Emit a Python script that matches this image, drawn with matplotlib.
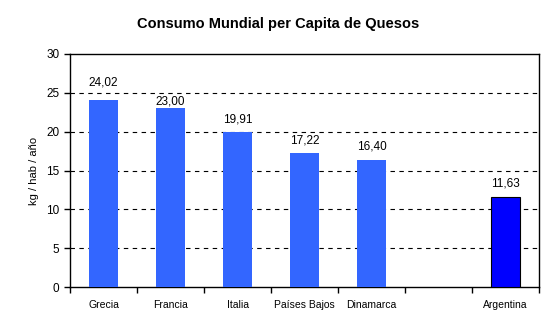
import matplotlib.pyplot as plt
import numpy as np

plt.rcParams['font.family'] = ['Liberation Sans', 'DejaVu Sans']

paises = ['Grecia', 'Francia', 'Italia', 'Países Bajos', 'Dinamarca', '', 'Argentina']
consumo = [24.02, 23.00, 19.91, 17.22, 16.40, np.nan, 11.63]
etiquetas = ['24,02', '23,00', '19,91', '17,22', '16,40', '', '11,63']

fig = plt.figure(figsize=(5.57, 3.29), dpi=100)
ax = fig.add_axes([70/557, 1 - 287/329, 469/557, 233/329])

x = np.arange(len(paises))
colores = ['#3366ff'] * 6 + ['#0000ff']
bordes = ['none'] * 6 + ['black']
for xi, v, c, e in zip(x, consumo, colores, bordes):
    if np.isnan(v):
        continue
    ax.bar(xi, v, width=0.42, color=c, edgecolor=e, linewidth=0.8, zorder=3)

# Excel leaves a slightly bigger gap above the first label
desplaz = [11, 3, 7, 7, 7, 7, 7]
for xi, v, t, d in zip(x, consumo, etiquetas, desplaz):
    if t:
        ax.annotate(t, (xi, v), xytext=(0, d), textcoords='offset points',
                    ha='center', va='baseline', fontsize=8.5)

ax.set_xlim(-0.5, len(paises) - 0.5)
ax.set_ylim(0, 30)
ax.set_yticks(range(0, 31, 5))
ax.tick_params(axis='y', labelsize=8.5, length=4, width=1, direction='out')

ax.set_xticks(x)
ax.set_xticklabels(paises, fontsize=7.5)
ax.tick_params(axis='x', which='major', length=0, pad=9)
ax.set_xticks(np.arange(-0.5, len(paises), 1), minor=True)
ax.tick_params(axis='x', which='minor', length=4, width=1, direction='out')

for y in range(5, 30, 5):
    ax.axhline(y, color='black', linestyle=(0, (4, 4)), linewidth=0.8, zorder=1)

for s in ax.spines.values():
    s.set_linewidth(1)

ax.set_ylabel('kg / hab / año', fontsize=8, labelpad=5)
fig.text(278/557, 1 - 24/329, 'Consumo Mundial per Capita de Quesos',
         ha='center', va='center', fontsize=10.5, fontweight='bold')

fig.savefig('out.png', dpi=100)
